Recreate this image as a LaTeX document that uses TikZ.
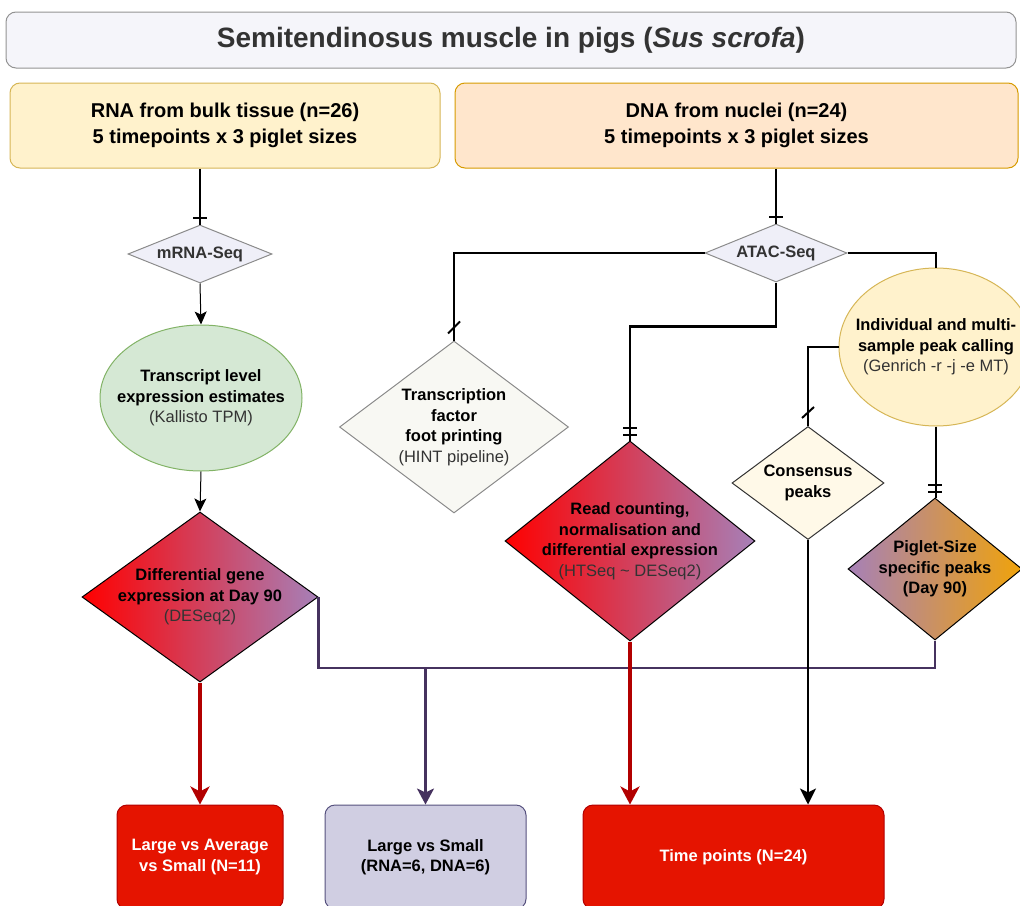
\documentclass[tikz,border=0pt]{standalone}
\usepackage{fontspec}
\setmainfont{Liberation Sans}
\usetikzlibrary{shapes.geometric,arrows.meta}

\definecolor{titlefill}{HTML}{F5F5FA}
\definecolor{yelfill}{HTML}{FFF2CC}
\definecolor{yeldraw}{HTML}{D6B656}
\definecolor{orfill}{HTML}{FFE6CC}
\definecolor{ordraw}{HTML}{D79B00}
\definecolor{seqfill}{HTML}{EFEFF8}
\definecolor{grnfill}{HTML}{D5E8D4}
\definecolor{grndraw}{HTML}{82B366}
\definecolor{tffill}{HTML}{F8F8F3}
\definecolor{consfill}{HTML}{FFF9E8}
\definecolor{gred}{HTML}{FF0000}
\definecolor{gpurple}{HTML}{A680B8}
\definecolor{gorange}{HTML}{F0A30A}
\definecolor{boxred}{HTML}{E51400}
\definecolor{darkred}{HTML}{B20000}
\definecolor{lavfill}{HTML}{D0CEE2}
\definecolor{lavdraw}{HTML}{56517E}
\definecolor{plum}{HTML}{46325F}
\definecolor{txtgray}{HTML}{333333}

\newcommand{\nfont}{\fontsize{16.5}{20.5}\selectfont}
\newcommand{\hfont}{\fontsize{20}{26}\selectfont\bfseries}
\newcommand{\sub}[1]{{\mdseries\color{txtgray}#1}}

\begin{document}
\begin{tikzpicture}[x=1pt, y=-1pt,
		dia/.style={diamond, draw, inner sep=0pt, line width=1pt},
		ell/.style={ellipse, draw, inner sep=0pt, line width=1pt},
		box/.style={rectangle, rounded corners=10pt, draw, line width=1pt, align=center},
		lbl/.style={align=center, font=\nfont\bfseries, text=black},
		conn/.style={line width=2.7pt},
		thinarrow/.style={line width=1pt, -{Stealth[length=13pt, width=12pt, inset=3pt]}},
		redarrow/.style={line width=3.5pt, draw=darkred, -{Stealth[length=18pt, width=19pt, inset=5pt]}},
		blkarrow/.style={line width=2.5pt, -{Stealth[length=16pt, width=16pt, inset=4pt]}},
		plumline/.style={line width=2.5pt, draw=plum}
	]
		\useasboundingbox (0,0) rectangle (1020,905);
		\clip (0,0) rectangle (1020,905);

		% header boxes
		\node[box, fill=titlefill, draw=gray!85, minimum width=1010, minimum height=56, text=txtgray, font=\fontsize{28}{32}\selectfont\bfseries] (title) at (511,40) {Semitendinosus muscle in pigs (\textit{Sus scrofa})};
		\node[box, fill=yelfill, draw=yeldraw, minimum width=430, minimum height=85, font=\hfont] (rna) at (225,125.5) {RNA from bulk tissue (n=26)\\5 timepoints x 3 piglet sizes};
		\node[box, fill=orfill, draw=ordraw, minimum width=563, minimum height=85, font=\hfont] (dna) at (736.5,125.5) {DNA from nuclei (n=24)\\5 timepoints x 3 piglet sizes};

		% RNA branch
		\node[dia, fill=seqfill, draw=gray!90, minimum width=144, minimum height=58, label={[lbl, text=txtgray]center:mRNA-Seq}] (mrna) at (200,254) {};
		\node[ell, fill=grnfill, draw=grndraw, minimum width=202, minimum height=146, label={[lbl]center:{Transcript level\\expression estimates\\\sub{(Kallisto TPM)}}}] (tle) at (201,398) {};
		\node[dia, left color=gred, right color=gpurple, minimum width=236, minimum height=170, label={[lbl]center:{Differential gene\\expression at Day 90\\\sub{(DESeq2)}}}] (dge) at (200,597) {};

		% DNA branch
		\node[dia, fill=seqfill, draw=gray!90, minimum width=142, minimum height=58, label={[lbl, text=txtgray]center:ATAC-Seq}] (atac) at (776,253) {};
		\node[dia, fill=tffill, draw=gray!90, minimum width=229, minimum height=172, label={[lbl]center:{Transcription\\factor\\foot printing\\\sub{(HINT pipeline)}}}] (tf) at (454,427) {};
		\node[dia, left color=gred, right color=gpurple, minimum width=250, minimum height=200, label={[lbl]center:{Read counting,\\normalisation and\\differential expression\\\sub{(HTSeq \textasciitilde{} DESeq2)}}}] (rc) at (630,541) {};
		\node[ell, fill=yelfill, draw=yeldraw, minimum width=194, minimum height=158, label={[lbl]center:{Individual and multi-\\sample peak calling\\\sub{(Genrich -r -j -e MT)}}}] (ipc) at (936,347) {};
		\node[dia, fill=consfill, draw=txtgray, minimum width=152, minimum height=113, label={[lbl]center:{Consensus\\peaks}}] (cons) at (808,483) {};
		\node[dia, left color=gpurple, right color=gorange, minimum width=174, minimum height=142, label={[lbl]center:{Piglet-Size\\specific peaks\\(Day 90)}}] (pss) at (935,569) {};

		% results
		\node[box, fill=boxred, draw=darkred, minimum width=166, minimum height=104, text=white, font=\nfont\bfseries] (lva) at (200,857) {Large vs Average\\vs Small (N=11)};
		\node[box, fill=lavfill, draw=lavdraw, minimum width=201, minimum height=104, text=black, font=\nfont\bfseries] (lvs) at (425.5,857) {Large vs Small\\(RNA=6, DNA=6)};
		\node[box, fill=boxred, draw=darkred, minimum width=301, minimum height=104, text=white, font=\nfont\bfseries] (tp) at (733.5,857) {Time points (N=24)};

		% connectors
		\draw[conn] (rna.south -| mrna.north) -- (mrna.north);
		\draw[conn] (dna.south -| atac.north) -- (atac.north);
		\draw[thinarrow] (mrna.south) -- (tle.north);
		\draw[thinarrow] (tle.south) -- (dge.north);
		\draw[conn] (atac.west) -| (tf.north);
		\draw[conn] (atac.south) -- ++(0,44) -| (rc.north);
		\draw[conn] (atac.east) -| (ipc.north);
		\draw[conn] (ipc.west) -| (cons.north);
		\draw[conn] (ipc.south) -- (ipc.south |- pss.north);

		\coordinate (join) at (425.5,668);
		\draw[plumline] (dge.east) |- (join) -| (pss.south);
		\draw[plumline, -{Stealth[length=16pt, width=17pt, inset=4pt]}] (join) -- (lvs.north);
		\draw[redarrow] (dge.south) -- (lva.north);
		\draw[redarrow] (rc.south) -- (rc.south |- tp.north);
		\draw[blkarrow] (cons.south) -- (cons.south |- tp.north);

		% end marks
		\draw[line width=2pt] ([xshift=-7pt,yshift=7pt]mrna.north) -- ([xshift=7pt,yshift=7pt]mrna.north);
		\draw[line width=2pt] ([xshift=-7pt,yshift=7pt]atac.north) -- ([xshift=7pt,yshift=7pt]atac.north);
		\draw[line width=2pt] ([xshift=-6pt,yshift=7pt]tf.north) -- ([xshift=6pt,yshift=19pt]tf.north);
		\draw[line width=2pt] ([xshift=-6pt,yshift=8pt]cons.north) -- ([xshift=6pt,yshift=19pt]cons.north);
		\foreach \d in {6, 13} {
			\draw[line width=2pt] ([xshift=-7pt,yshift=\d pt]rc.north) -- ([xshift=7pt,yshift=\d pt]rc.north);
			\draw[line width=2pt] ([xshift=-7pt,yshift=\d pt]pss.north) -- ([xshift=7pt,yshift=\d pt]pss.north);
		}
	\end{tikzpicture}
\end{document}
